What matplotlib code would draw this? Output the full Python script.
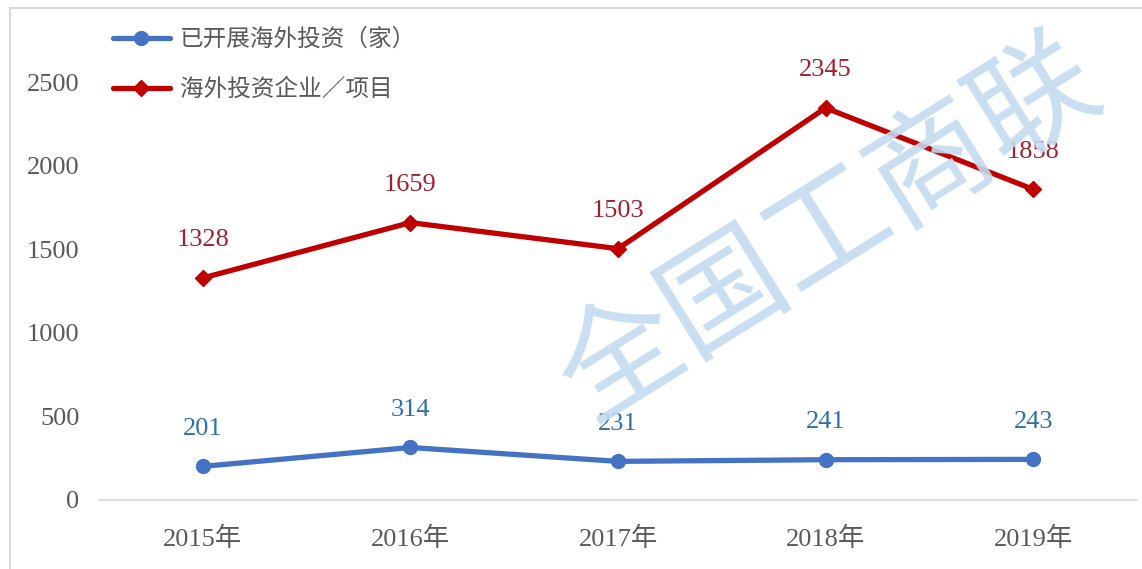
import matplotlib
matplotlib.use("Agg")
import matplotlib.pyplot as plt
from matplotlib.patches import Rectangle

plt.rcParams['font.family'] = ['Liberation Serif', 'Noto Sans CJK SC', 'DejaVu Sans']

years = ["2015年", "2016年", "2017年", "2018年", "2019年"]
series_blue_name = "已开展海外投资（家）"
series_red_name = "海外投资企业／项目"
blue_values = [201, 314, 231, 241, 243]
red_values = [1328, 1659, 1503, 2345, 1858]
y_ticks = [0, 500, 1000, 1500, 2000, 2500]
watermark = "全国工商联"

W, H = 1142, 569
fig = plt.figure(figsize=(W / 100, H / 100), dpi=100)
fig.patch.set_facecolor("white")

# outer frame
fig.patches.append(Rectangle((10 / W, -0.05), 1.2, 1 - 8 / H + 0.05, transform=fig.transFigure,
                             fill=False, edgecolor="#d9d9d9", linewidth=1.5, zorder=0))

left, right = 99 / W, 1137 / W
bottom = (H - 500) / H
ymax = 2900
px_per_unit = (500 - 82) / 2500
top_px = 500 - ymax * px_per_unit
ax = fig.add_axes([left, bottom, right - left, (500 - top_px) / H])

x = list(range(len(years)))
ax.plot(x, blue_values, color="#4472c4", linewidth=3.8, marker="o", markersize=10,
        solid_capstyle="round", label=series_blue_name, zorder=3)
ax.plot(x, red_values, color="#c00000", linewidth=3.8, marker="D", markersize=8,
        solid_capstyle="round", label=series_red_name, zorder=3)

for xi, v in zip(x, blue_values):
    ax.annotate(str(v), (xi, v), xytext=(0, 27), textcoords="offset points",
                ha="center", va="center", fontsize=19, color="#2e6fae", zorder=4)
for xi, v in zip(x, red_values):
    ax.annotate(str(v), (xi, v), xytext=(0, 27), textcoords="offset points",
                ha="center", va="center", fontsize=19, color="#a31f2e", zorder=4)

ax.set_xlim(-0.5, len(years) - 0.5)
ax.set_ylim(0, ymax)
ax.set_yticks(y_ticks)
ax.set_yticklabels([str(t) for t in y_ticks])
ax.set_xticks(x)
ax.set_xticklabels(years)
ax.tick_params(axis="both", length=0, labelsize=19, labelcolor="#595959")
ax.tick_params(axis="y", pad=14)
ax.tick_params(axis="x", pad=19)
for s in ["left", "right", "top"]:
    ax.spines[s].set_visible(False)
ax.spines["bottom"].set_color("#d9d9d9")
ax.spines["bottom"].set_linewidth(1.2)
ax.patch.set_alpha(0)

leg = fig.legend(loc="upper left", bbox_to_anchor=(113 / W, 1 - 28 / H), frameon=False,
                 fontsize=17, handlelength=2.4, handletextpad=0.45, labelspacing=1.15,
                 borderpad=0, borderaxespad=0)
for t in leg.get_texts():
    t.set_color("#595959")
    t.set_family(["Noto Sans CJK SC", "DejaVu Sans"])

fig.text(830 / W, 1 - 232 / H, watermark, rotation=32, fontsize=88, color="#c4dbf0",
         alpha=0.9, ha="center", va="center", family=["Noto Sans CJK SC"],
         rotation_mode="anchor", zorder=10)

fig.savefig("out.png", dpi=100)
